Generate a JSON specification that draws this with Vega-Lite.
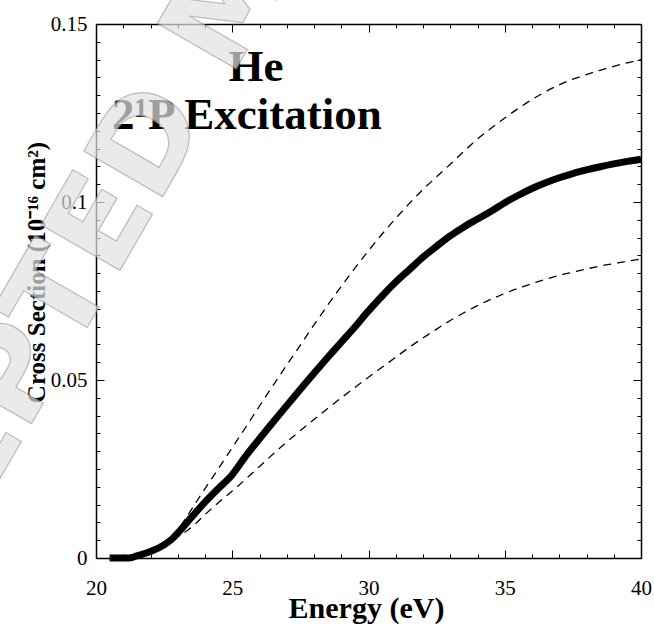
{
  "$schema": "https://vega.github.io/schema/vega-lite/v6.json",
  "width": 545,
  "height": 534,
  "autosize": {"type": "none"},
  "padding": {"left": 96, "top": 24, "right": 13, "bottom": 68},
  "background": "white",
  "config": {
    "view": {"stroke": null},
    "axis": {
      "domainColor": "black", "domainWidth": 1.5,
      "tickColor": "black", "tickWidth": 1,
      "labelFont": "Liberation Serif", "labelFontSize": 21, "labelColor": "black",
      "labelFlush": false, "labelOverlap": false,
      "titleFont": "Liberation Serif", "titleColor": "black", "grid": false
    }
  },
  "datasets": {
    "mid": [
      {"e": 20.5, "cs": 0}, {"e": 21.2, "cs": 0}, {"e": 21.5, "cs": 0.0006}, {"e": 22.0, "cs": 0.0018},
      {"e": 22.5, "cs": 0.0037}, {"e": 22.8, "cs": 0.0054}, {"e": 23.0, "cs": 0.007}, {"e": 23.5, "cs": 0.0114},
      {"e": 24.0, "cs": 0.0157}, {"e": 24.5, "cs": 0.0196}, {"e": 25.0, "cs": 0.0234}, {"e": 25.5, "cs": 0.0287},
      {"e": 26.0, "cs": 0.0335}, {"e": 26.5, "cs": 0.0382}, {"e": 27.0, "cs": 0.0428}, {"e": 27.5, "cs": 0.0474},
      {"e": 28.0, "cs": 0.0519}, {"e": 28.5, "cs": 0.0563}, {"e": 29.0, "cs": 0.0606}, {"e": 29.5, "cs": 0.0649},
      {"e": 30.0, "cs": 0.0694}, {"e": 30.5, "cs": 0.0736}, {"e": 31.0, "cs": 0.0775}, {"e": 31.5, "cs": 0.081},
      {"e": 32.0, "cs": 0.0845}, {"e": 32.5, "cs": 0.0876}, {"e": 33.0, "cs": 0.0905}, {"e": 33.5, "cs": 0.093},
      {"e": 34.0, "cs": 0.0952}, {"e": 34.5, "cs": 0.0974}, {"e": 35.0, "cs": 0.0998}, {"e": 35.5, "cs": 0.1019},
      {"e": 36.0, "cs": 0.1038}, {"e": 36.5, "cs": 0.1054}, {"e": 37.0, "cs": 0.1068}, {"e": 37.5, "cs": 0.108},
      {"e": 38.0, "cs": 0.109}, {"e": 38.5, "cs": 0.1099}, {"e": 39.0, "cs": 0.1107}, {"e": 39.5, "cs": 0.1114},
      {"e": 40.0, "cs": 0.112}
    ],
    "upper": [
      {"e": 22.8, "cs": 0.0058}, {"e": 23.0, "cs": 0.0078}, {"e": 23.5, "cs": 0.0136}, {"e": 24.0, "cs": 0.0195},
      {"e": 24.5, "cs": 0.0252}, {"e": 25.0, "cs": 0.031}, {"e": 25.5, "cs": 0.0368}, {"e": 26.0, "cs": 0.0427},
      {"e": 26.5, "cs": 0.0485}, {"e": 27.0, "cs": 0.0542}, {"e": 27.5, "cs": 0.0598}, {"e": 28.0, "cs": 0.0655},
      {"e": 28.5, "cs": 0.071}, {"e": 29.0, "cs": 0.0763}, {"e": 29.5, "cs": 0.0814}, {"e": 30.0, "cs": 0.0863},
      {"e": 30.5, "cs": 0.091}, {"e": 31.0, "cs": 0.0954}, {"e": 31.5, "cs": 0.0996}, {"e": 32.0, "cs": 0.1035},
      {"e": 32.5, "cs": 0.1071}, {"e": 33.0, "cs": 0.1106}, {"e": 33.5, "cs": 0.1142}, {"e": 34.0, "cs": 0.1177},
      {"e": 34.5, "cs": 0.1207}, {"e": 35.0, "cs": 0.1236}, {"e": 35.5, "cs": 0.1263}, {"e": 36.0, "cs": 0.1288},
      {"e": 36.5, "cs": 0.131}, {"e": 37.0, "cs": 0.1329}, {"e": 37.5, "cs": 0.1345}, {"e": 38.0, "cs": 0.1358},
      {"e": 38.5, "cs": 0.137}, {"e": 39.0, "cs": 0.1381}, {"e": 39.5, "cs": 0.1391}, {"e": 40.0, "cs": 0.14}
    ],
    "lower": [
      {"e": 22.8, "cs": 0.0052}, {"e": 23.0, "cs": 0.006}, {"e": 23.5, "cs": 0.0086}, {"e": 24.0, "cs": 0.0122},
      {"e": 24.5, "cs": 0.0156}, {"e": 25.0, "cs": 0.0188}, {"e": 25.5, "cs": 0.0222}, {"e": 26.0, "cs": 0.0257},
      {"e": 26.5, "cs": 0.0292}, {"e": 27.0, "cs": 0.0326}, {"e": 27.5, "cs": 0.0358}, {"e": 28.0, "cs": 0.0389},
      {"e": 28.5, "cs": 0.042}, {"e": 29.0, "cs": 0.045}, {"e": 29.5, "cs": 0.0479}, {"e": 30.0, "cs": 0.0508},
      {"e": 30.5, "cs": 0.0536}, {"e": 31.0, "cs": 0.0564}, {"e": 31.5, "cs": 0.0592}, {"e": 32.0, "cs": 0.0618},
      {"e": 32.5, "cs": 0.0643}, {"e": 33.0, "cs": 0.0667}, {"e": 33.5, "cs": 0.0689}, {"e": 34.0, "cs": 0.0709},
      {"e": 34.5, "cs": 0.0727}, {"e": 35.0, "cs": 0.0743}, {"e": 35.5, "cs": 0.0758}, {"e": 36.0, "cs": 0.0771},
      {"e": 36.5, "cs": 0.0783}, {"e": 37.0, "cs": 0.0794}, {"e": 37.5, "cs": 0.0803}, {"e": 38.0, "cs": 0.0812},
      {"e": 38.5, "cs": 0.082}, {"e": 39.0, "cs": 0.0827}, {"e": 39.5, "cs": 0.0834}, {"e": 40.0, "cs": 0.084}
    ],
    "notes": [
      {"label": "He", "e": 25.87, "cs": 0.1341},
      {"label": "2¹P Excitation", "e": 25.54, "cs": 0.1206}
    ],
    "mark": [
      {"label": "ACCEPTED MANUSCRIPT", "e": 25.14, "cs": 0.1586}
    ]
  },
  "layer": [
    {
      "data": {"name": "mid"},
      "mark": {"type": "line", "color": "black", "strokeWidth": 7, "interpolate": "monotone", "strokeCap": "butt"},
      "encoding": {
        "x": {"field": "e", "type": "quantitative",
              "scale": {"domain": [20, 40], "nice": false, "zero": false},
              "axis": {"orient": "bottom", "values": [20, 25, 30, 35, 40], "format": "d", "tickSize": -8, "labelPadding": 27,
                       "title": "Energy (eV)", "titleFontSize": 30, "titleFontWeight": "bold",
                       "titleY": 59, "titleBaseline": "alphabetic", "titleX": 270}},
        "y": {"field": "cs", "type": "quantitative",
              "scale": {"domain": [0, 0.15], "nice": false, "zero": false},
              "axis": {"orient": "left", "values": [0, 0.05, 0.1, 0.15],
                       "labelExpr": "datum.value == 0 ? '0' : format(datum.value, '.2~f')",
                       "tickSize": -8, "labelPadding": 17,
                       "title": "Cross Section (10⁻¹⁶ cm²)", "titleFontSize": 25, "titleFontWeight": "bold",
                       "titleX": -52, "titleY": 248, "titleBaseline": "alphabetic", "titleAngle": -90, "titleAlign": "center"}}
      }
    },
    {
      "data": {"name": "upper"},
      "mark": {"type": "line", "color": "black", "strokeWidth": 1.3, "strokeDash": [8, 6], "interpolate": "monotone"},
      "encoding": {
        "x": {"field": "e", "type": "quantitative",
              "scale": {"domain": [20, 40], "nice": false, "zero": false},
              "axis": {"orient": "bottom", "values": [21, 22, 23, 24, 26, 27, 28, 29, 31, 32, 33, 34, 36, 37, 38, 39],
                       "labels": false, "domain": false, "tickSize": -4, "title": null}},
        "y": {"field": "cs", "type": "quantitative",
              "scale": {"domain": [0, 0.15], "nice": false, "zero": false},
              "axis": {"orient": "left", "values": [0.005, 0.01, 0.015, 0.02, 0.025, 0.03, 0.035, 0.04, 0.045, 0.055, 0.06, 0.065, 0.07, 0.075, 0.08, 0.085, 0.09, 0.095, 0.105, 0.11, 0.115, 0.12, 0.125, 0.13, 0.135, 0.14, 0.145],
                       "labels": false, "domain": false, "tickSize": -4, "title": null}}
      }
    },
    {
      "data": {"name": "lower"},
      "mark": {"type": "line", "color": "black", "strokeWidth": 1.3, "strokeDash": [8, 6], "interpolate": "monotone"},
      "encoding": {
        "x": {"field": "e", "type": "quantitative",
              "scale": {"domain": [20, 40], "nice": false, "zero": false},
              "axis": {"orient": "top", "values": [20, 25, 30, 35, 40], "labels": false, "tickSize": -8, "title": null}},
        "y": {"field": "cs", "type": "quantitative",
              "scale": {"domain": [0, 0.15], "nice": false, "zero": false},
              "axis": {"orient": "right", "values": [0, 0.05, 0.1, 0.15], "labels": false, "tickSize": -8, "title": null}}
      }
    },
    {
      "data": {"name": "notes"},
      "mark": {"type": "text", "font": "Liberation Serif", "fontWeight": "bold", "fontSize": 45, "align": "center", "baseline": "alphabetic", "color": "black"},
      "encoding": {
        "text": {"field": "label"},
        "x": {"field": "e", "type": "quantitative",
              "scale": {"domain": [20, 40], "nice": false, "zero": false},
              "axis": {"orient": "top", "values": [21, 22, 23, 24, 26, 27, 28, 29, 31, 32, 33, 34, 36, 37, 38, 39],
                       "labels": false, "domain": false, "tickSize": -4, "title": null}},
        "y": {"field": "cs", "type": "quantitative",
              "scale": {"domain": [0, 0.15], "nice": false, "zero": false},
              "axis": {"orient": "right", "values": [0.005, 0.01, 0.015, 0.02, 0.025, 0.03, 0.035, 0.04, 0.045, 0.055, 0.06, 0.065, 0.07, 0.075, 0.08, 0.085, 0.09, 0.095, 0.105, 0.11, 0.115, 0.12, 0.125, 0.13, 0.135, 0.14, 0.145],
                       "labels": false, "domain": false, "tickSize": -4, "title": null}}
      }
    },
    {
      "data": {"name": "mark"},
      "mark": {"type": "text", "font": "DejaVu Sans", "fontWeight": "bold", "fontSize": 125, "align": "center", "baseline": "middle", "angle": -60, "fill": "#e2e2e2", "stroke": "#a0a0a0", "strokeWidth": 1.2, "opacity": 0.7},
      "encoding": {
        "text": {"field": "label"},
        "x": {"field": "e", "type": "quantitative", "scale": {"domain": [20, 40], "nice": false, "zero": false}, "axis": null},
        "y": {"field": "cs", "type": "quantitative", "scale": {"domain": [0, 0.15], "nice": false, "zero": false}, "axis": null}
      }
    }
  ],
  "resolve": {"axis": {"x": "independent", "y": "independent"}}
}
